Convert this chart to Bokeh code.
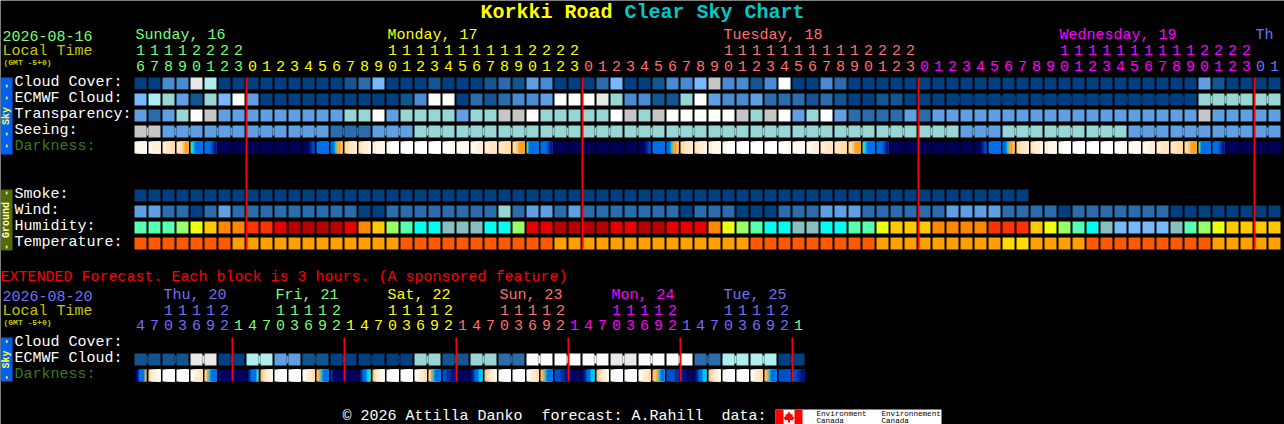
from math import pi
from bokeh.plotting import figure
from bokeh.models import Range1d, ColumnDataSource
from bokeh.core.properties import value
from bokeh.embed import file_html
from bokeh.resources import INLINE

# ---------- palettes ----------
SKY = ["#003f80", "#135590", "#2c6cac", "#4a8ad0", "#619fe3", "#78b8ff",
       "#98d6d6", "#aeeeee", "#c6c6c6", "#e8e8e8", "#ffffff"]
HUMID = ["#78b8f8", "#88bfc0", "#00ffee", "#58ffb0", "#98ff68", "#ecff10",
         "#ffc800", "#ff8800", "#ff3300", "#e80000", "#b80000"]
TEMP = ["#ff5a00", "#ffa000", "#ffdc00"]
DARK = {"a": "#ffffff", "b": "#fff8ee", "c": "#ffefd9", "d": "#ffe6c4", "e": "#ffdba6",
        "f": "#ffc070", "g": "#ffa020", "h": "#40d8a8", "i": "#00c8ff", "j": "#0070e8",
        "k": "#0050c8", "l": "#0030a0", "m": "#001080", "n": "#000060", "o": "#000054"}
GREEN, YEL, SALMON, MAG, BLUE = "#78ff78", "#ffff00", "#ff7070", "#ff00ff", "#7070ff"

# ---------- main chart data (one value per hour column) ----------
hours_main = [16, 17, 18, 19, 20, 21, 22, 23,
              0, 1, 2, 3, 4, 5, 6, 7, 8, 9, 10, 11, 12, 13, 14, 15, 16, 17, 18, 19, 20, 21, 22, 23,
              0, 1, 2, 3, 4, 5, 6, 7, 8, 9, 10, 11, 12, 13, 14, 15, 16, 17, 18, 19, 20, 21, 22, 23,
              0, 1, 2, 3, 4, 5, 6, 7, 8, 9, 10, 11, 12, 13, 14, 15, 16, 17, 18, 19, 20, 21, 22, 23,
              0, 1]
cloud_cover = [0, 0, 3, 3, 9, 7, 0, 0, 0, 0, 0, 0, 0, 0, 0, 1, 2, 5, 0, 0, 0, 1, 0, 0, 0, 1, 2, 1, 4, 3, 0, 0,
               0, 2, 5, 0, 0, 1, 3, 3, 5, 8, 3, 3, 1, 3, 10, 0, 0, 3, 2, 0, 0, 0, 0, 0, 0, 0, 0, 0, 0, 0, 0, 0,
               0, 0, 0, 0, 0, 0, 0, 0, 0, 0, 0, 0, 4, 1, 0, 0, 0, 0]
ecmwf_cloud = [5, 7, 6, 4, 1, 6, 5, 10, 4, 0, 0, 0, 0, 0, 0, 0, 0, 0, 0, 1, 3, 10, 10, 0, 2, 1, 2, 3, 3, 4, 10, 10,
               10, 9, 6, 3, 3, 1, 1, 6, 10, 4, 3, 3, 4, 2, 2, 2, 1, 2, 1, 0, 0, 1, 1, 0, 0, 0, 0, 0, 0, 0, 0, 0,
               0, 0, 0, 0, 0, 0, 0, 0, 0, 0, 0, 0, 6, 6, 6, 6, 6, 6]
ecmwf_spans = [1] * 58 + [6, 6, 6, 4, 2]
transparency = [4, 2, 4, 6, 10, 8, 4, 4, 4, 4, 4, 4, 4, 4, 4, 6, 6, 10, 4, 6, 6, 6, 6, 4, 6, 6, 8, 8, 10, 6, 6, 6,
                6, 6, 10, 8, 6, 8, 10, 10, 10, 10, 10, 8, 6, 8, 10, 4, 6, 10, 4, 2, 2, 2, 2, 4, 2, 4, 4, 4, 4, 4, 4, 4,
                4, 4, 4, 4, 4, 4, 4, 4, 4, 4, 4, 4, 8, 4, 4, 4, 4, 4]
seeing_spans = [2] + [3] * 26 + [2]
seeing_groups = [8, 4, 4, 4, 4, 2, 4, 6, 6, 6, 6, 6, 6, 6, 6, 6, 6, 6, 6, 6, 4, 6, 6, 6, 4, 4, 4, 4]
darkness = ["bbbbbb", "bbcccc", "ccddee", "ddefgg", "hijjjj", "jjjklm", "nnnnnn", "oooooo",
            "oooooo", "oooooo", "oooooo", "oooooo", "nnnmlk", "jjjjjj", "jjiggf", "eedddc",
            "ddcccb", "ccbbbb", "bbaaaa", "aaaaaa", "aaaaaa", "aaaaaa", "aaaabb", "abbbbb",
            "bbbccc", "ccdddd", "dddeee", "eefggg", "hjjjjj", "jjjklm", "nnnnnn", "oooooo",
            "oooooo", "oooooo", "oooooo", "oooooo", "nnnmlk", "jjjjjj", "jjiggf", "eedddc",
            "ddcccb", "ccbbbb", "bbaaaa", "aaaaaa", "aaaaaa", "aaaaaa", "aaaabb", "abbbbb",
            "bbbccc", "ccdddd", "dddeee", "eefggg", "hijjjj", "jjjklm", "nnnnnn", "oooooo",
            "oooooo", "oooooo", "oooooo", "oooooo", "nnnmlk", "jjjjjj", "jjiggf", "eedddc",
            "ddcccb", "ccbbbb", "bbaaaa", "aaaaaa", "aaaaaa", "aaaaaa", "aaaabb", "abbbbb",
            "bbbccc", "ccdddd", "dddeee", "eefggg", "hjjjjj", "jjjklm", "nnnnnn", "oooooo",
            "oooooo", "oooooo"]
smoke = [0] * 64
wind = [4, 4, 2, 2, 0, 2, 4, 2, 2, 2, 2, 2, 2, 2, 2, 2, 0, 0, 2, 2, 2, 2, 2, 2, 2, 2, 6, 2, 4, 4, 2, 4,
        2, 2, 2, 2, 2, 2, 2, 0, 2, 2, 2, 0, 0, 0, 2, 2, 2, 4, 4, 4, 2, 2, 2, 2, 2, 2, 4, 4, 4, 4, 2, 2,
        2, 2, 0, 2, 2, 2, 2, 2, 2, 2, 0, 0, 0, 0, 0, 0, 0, 0]
humidity = [3, 3, 3, 4, 5, 6, 7, 7, 8, 8, 9, 10, 10, 10, 10, 9, 7, 6, 4, 3, 2, 2, 1, 1, 1, 2, 2, 4, 9, 9, 10, 10,
            10, 10, 9, 9, 10, 10, 9, 9, 9, 7, 5, 4, 3, 2, 2, 1, 1, 2, 2, 3, 3, 5, 6, 6, 6, 7, 7, 7, 7, 8, 8, 8,
            6, 5, 4, 3, 2, 1, 0, 0, 0, 0, 1, 3, 4, 5, 6, 6, 6, 6]
temperature = [0, 0, 0, 0, 0, 0, 0, 1, 1, 1, 1, 1, 1, 1, 1, 1, 1, 1, 1, 0, 0, 0, 0, 0, 0, 0, 0, 0, 0, 0, 1, 1,
               1, 1, 1, 1, 1, 1, 1, 1, 1, 1, 1, 1, 0, 0, 0, 0, 0, 0, 0, 0, 0, 1, 1, 1, 1, 1, 1, 1, 1, 1, 2, 2,
               1, 1, 1, 1, 0, 0, 0, 0, 0, 0, 0, 0, 0, 1, 1, 1, 1, 1]
midnights_main = [8, 32, 56, 80]
hour_colors_main = [GREEN] * 8 + [YEL] * 24 + [SALMON] * 24 + [MAG] * 24 + [BLUE] * 2
days_main = [("Sunday, 16", 0, GREEN), ("Monday, 17", 18, YEL), ("Tuesday, 18", 42, SALMON),
             ("Wednesday, 19", 66, MAG), ("Th", 80, BLUE)]

# ---------- extended forecast data (one value per 3-hour column) ----------
hours_ext = [4, 7, 10, 13, 16, 19, 22,
             1, 4, 7, 10, 13, 16, 19, 22, 1, 4, 7, 10, 13, 16, 19, 22,
             1, 4, 7, 10, 13, 16, 19, 22, 1, 4, 7, 10, 13, 16, 19, 22,
             1, 4, 7, 10, 13, 16, 19, 22, 1]
ext_ecmwf_groups = [1, 1, 9, 0, 7, 4, 1, 0, 0, 0, 6, 1, 6, 2, 10, 10, 10, 9, 10, 10, 2, 7, 7, 0]
ext_ecmwf_spans = [2] * 24
ext_darkness = ["omjjjg", "edccbb", "aaaaaa", "aaaaaa", "abccdd", "egijjj", "mnnnnn", "nnnnnn",
                "nljjjh", "fedccb", "aaaaaa", "aaaaaa", "abcdde", "fgijjj", "lnnnnn", "nnnnnn",
                "nljjih", "fdccbb", "aaaaaa", "aaaaaa", "abcdde", "egijjj", "kkllmm", "nnnnnn",
                "mljjii", "fedccb", "aaaaaa", "aaaaaa", "abcdde", "fgijjj", "kkkllm", "mnnnnn",
                "mljjii", "fedccb", "aaaaaa", "aaaaaa", "abcdde", "ffgijj", "kkkkll", "lmmnnn",
                "mljjii", "fedccb", "aaaaaa", "aaaaaa", "abcdde", "fgijjj", "kkkkkk", "kkllmm"]
midnights_ext = [7, 15, 23, 31, 39, 47]
hour_colors_ext = [BLUE] * 7 + [GREEN] * 8 + [YEL] * 8 + [SALMON] * 8 + [MAG] * 8 + [BLUE] * 8 + [GREEN]
days_ext = [("Thu, 20", 2, BLUE), ("Fri, 21", 10, GREEN), ("Sat, 22", 18, YEL),
            ("Sun, 23", 26, SALMON), ("Mon, 24", 34, MAG), ("Tue, 25", 42, BLUE)]

# ---------- layout ----------
W, H = 1284, 424
X0, PITCH, CELL = 134, 14, 12
MONO = value("Liberation Mono")
BASE_SHIFT = 0.31  # SVG text sits this fraction of its size below the given baseline


def px(x):
    return (x - X0) / PITCH


p = figure(width=W, height=H, output_backend="svg", toolbar_location=None,
           x_range=Range1d(px(0), px(W)), y_range=Range1d(H, 0),
           background_fill_color="black", border_fill_color="black",
           min_border=0, outline_line_color=None, margin=0)
p.axis.visible = False
p.grid.visible = False

quads = dict(left=[], right=[], top=[], bottom=[], color=[])


def q(l, r, t, b, c):
    quads["left"].append(l)
    quads["right"].append(r)
    quads["top"].append(t)
    quads["bottom"].append(b)
    quads["color"].append(c)


CW = CELL / PITCH


def row(vals, top, pal):
    for i, v in enumerate(vals):
        q(i, i + CW, top, top + CELL, pal[v])


def grouped(group_vals, spans, top, pal):
    i = 0
    for v, s in zip(group_vals, spans):
        for k in range(s):
            q(i + k, i + k + CW, top, top + CELL, pal[v])
            if k < s - 1:
                q(i + k + CW, i + k + 1, top + 2, top + CELL - 2, pal[v])
        i += s


def dark_row(cells, top):
    for i, s in enumerate(cells):
        w = CW / len(s)
        for j, ch in enumerate(s):
            # each slice runs on to the cell's right edge; the next slice paints over it
            q(i + j * w, i + CW, top, top + CELL, DARK[ch])


row(cloud_cover, 77, SKY)
grp = []
i = 0
for s in ecmwf_spans:
    grp.append(ecmwf_cloud[i])
    i += s
grouped(grp, ecmwf_spans, 93, SKY)
row(transparency, 109, SKY)
grouped(seeing_groups, seeing_spans, 125, SKY)
dark_row(darkness, 141)
row(smoke, 189, SKY)
row(wind, 205, SKY)
row(humidity, 221, HUMID)
row(temperature, 237, TEMP)
grouped(ext_ecmwf_groups, ext_ecmwf_spans, 353, SKY)
dark_row(ext_darkness, 369)

# side bars
q(px(0), px(12), 77, 154, "#0060f0")
q(px(0), px(12), 189, 250, "#526b00")
q(px(0), px(12), 337, 381, "#0060f0")

# data-source logo
q(px(775), px(941), 409, 424, "#ffffff")
q(px(775), px(783), 409, 424, "#ff0000")
q(px(794), px(802), 409, 424, "#ff0000")

p.quad(left="left", right="right", top="top", bottom="bottom", color="color",
       line_color=None, source=ColumnDataSource(quads))

# maple leaf
leaf_x = [788.5, 790.5, 792, 792, 794, 792, 789.5, 789.5, 787.5, 787.5, 785, 783, 785, 785, 786.5]
leaf_y = [411, 414, 413.5, 416, 417, 420, 419.5, 422, 422, 419.5, 420, 417, 416, 413.5, 414]
p.patch([px(v) for v in leaf_x], leaf_y, color="#ff0000", line_color=None)

# midnight markers
p.segment(x0=midnights_main, x1=midnights_main, y0=[77] * 4, y1=[249] * 4,
          line_color="#ff0000", line_width=2)
p.segment(x0=midnights_ext, x1=midnights_ext, y0=[337] * 6, y1=[381] * 6,
          line_color="#ff0000", line_width=2)


def label(x, y, txt, color, size=15, align="left", bold=False, angle=0, baseline="alphabetic"):
    yy = y - BASE_SHIFT * size if baseline == "alphabetic" else y
    p.text(x=[px(x)], y=[yy], text=[txt], text_color=color, text_font=MONO, text_font_size=f"{size}px",
           text_align=align, text_baseline=baseline, angle=angle,
           text_font_style="bold" if bold else "normal")


def hours(vals, colors, tens_y, unit_y):
    xs_t, ts_t, cs_t = [], [], []
    xs_u, ts_u, cs_u = [], [], []
    for i, (h, c) in enumerate(zip(vals, colors)):
        xc = i + CW / 2
        xs_u.append(xc)
        ts_u.append(str(h % 10))
        cs_u.append(c)
        if h >= 10:
            xs_t.append(xc)
            ts_t.append(str(h // 10))
            cs_t.append(c)
    for xs, ts, cs, y in ((xs_t, ts_t, cs_t, tens_y), (xs_u, ts_u, cs_u, unit_y)):
        p.text(x=xs, y=[y - BASE_SHIFT * 15] * len(xs), text=ts, text_color=cs, text_font=MONO,
               text_font_size="15px", text_align="center", text_baseline="alphabetic")


# title
label(480, 18, "Korkki Road", YEL, 20, bold=True)
label(624, 18, "Clear Sky Chart", "#00c8c8", 20, bold=True)

# main header
label(2, 40, "2026-08-16", GREEN)
label(2, 56, "Local Time", "#c8c800")
label(3, 64, "(GMT -5+0)", "#c8c800", 8, bold=True)
for txt, col, c in days_main:
    label(X0 + 1 + col * PITCH, 40, txt, c)
hours(hours_main, hour_colors_main, 54, 70)

for txt, y, c in [("Cloud Cover:", 87, "#ffffff"), ("ECMWF Cloud:", 103, "#ffffff"),
                  ("Transparency:", 119, "#ffffff"), ("Seeing:", 135, "#ffffff"),
                  ("Darkness:", 151, "#3a7a20"), ("Smoke:", 199, "#ffffff"),
                  ("Wind:", 215, "#ffffff"), ("Humidity:", 231, "#ffffff"),
                  ("Temperature:", 247, "#ffffff"), ("Cloud Cover:", 347, "#ffffff"),
                  ("ECMWF Cloud:", 363, "#ffffff"), ("Darkness:", 379, "#3a7a20")]:
    label(14, y, txt, c)

# side-bar captions
label(6, 115.5, "- - Sky - -", "#ffff40", 10, "center", bold=True, angle=pi / 2, baseline="middle")
label(6, 219.5, "- Ground -", "#ffffc8", 10, "center", bold=True, angle=pi / 2, baseline="middle")
label(6, 359, "- Sky -", "#ffff40", 10, "center", bold=True, angle=pi / 2, baseline="middle")

# extended header
label(0, 282, "EXTENDED Forecast. Each block is 3 hours. (A sponsored feature)", "#ff0000")
label(2, 300, "2026-08-20", BLUE)
label(2, 316, "Local Time", "#c8c800")
label(3, 324, "(GMT -5+0)", "#c8c800", 8, bold=True)
for txt, col, c in days_ext:
    label(X0 + 1 + col * PITCH, 300, txt, c)
hours(hours_ext, hour_colors_ext, 314, 329)

# footer
label(342, 421, "\u00a9 2026 Attilla Danko", "#ffffff")
label(541, 421, "forecast: A.Rahill", "#ffffff")
label(721, 421, "data:", "#ffffff")
label(816, 416, "Environment", "#000000", 7.6)
label(816, 423, "Canada", "#000000", 7.6)
label(881, 416, "Environnement", "#000000", 7.6)
label(881, 423, "Canada", "#000000", 7.6)

open("out.html", "w").write(file_html(p, INLINE))
